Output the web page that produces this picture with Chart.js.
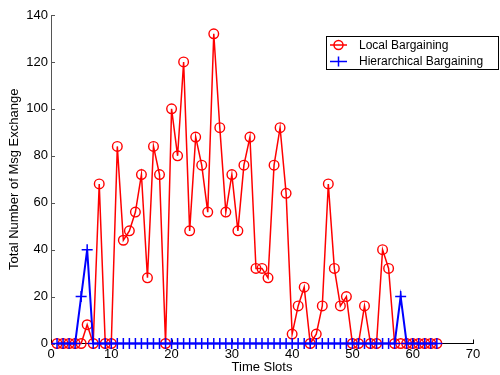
<!DOCTYPE html>
<html>
<head>
<meta charset="utf-8">
<script src="https://cdn.jsdelivr.net/npm/chart.js@4"></script>
<style>
  html, body { margin: 0; padding: 0; background: #fff; }
  #wrap { width: 500px; height: 375px; }
</style>
</head>
<body>
<div id="wrap"><canvas id="chart" width="500" height="375"></canvas></div>
<script>
// Msg exchange per time slot

const timeSlots = [1, 2, 3, 4, 5, 6, 7, 8, 9, 10, 11, 12, 13, 14, 15, 16, 17, 18, 19, 20, 21, 22,
    23, 24, 25, 26, 27, 28, 29, 30, 31, 32, 33, 34, 35, 36, 37, 38, 39, 40, 41, 42, 43,
    44, 45, 46, 47, 48, 49, 50, 51, 52, 53, 54, 55, 56, 57, 58, 59, 60, 61, 62, 63, 64];

const localMsgs = [0, 0, 0, 0, 0, 8, 0, 68, 0, 0, 84, 44, 48, 56, 72, 28, 84, 72, 0, 100, 80, 120,
    48, 88, 76, 56, 132, 92, 56, 72, 48, 76, 88, 32, 32, 28, 76, 92, 64, 4, 16, 24, 0,
    4, 16, 68, 32, 16, 20, 0, 0, 16, 0, 0, 40, 32, 0, 0, 0, 0, 0, 0, 0, 0];

const hierMsgs = [0, 0, 0, 0, 20, 40, 0, 0, 0, 0, 0, 0, 0, 0, 0, 0, 0, 0, 0, 0, 0, 0,
    0, 0, 0, 0, 0, 0, 0, 0, 0, 0, 0, 0, 0, 0, 0, 0, 0, 0, 0, 0, 0,
    0, 0, 0, 0, 0, 0, 0, 0, 0, 0, 0, 0, 0, 0, 20, 0, 0, 0, 0, 0, 0];

const xTicks = [0, 10, 20, 30, 40, 50, 60, 70];
const yTicks = [0, 20, 40, 60, 80, 100, 120, 140];

const toPoints = (ys) => timeSlots.map((x, i) => ({ x: x, y: ys[i] }));

// ticks pointing inward + boxed legend (matlab look)
const matlabBits = {
    id: 'matlabBits',
    beforeDatasetsDraw(chart) {
        const ctx = chart.ctx;
        const xs = chart.scales.x;
        const ys = chart.scales.y;
        const area = chart.chartArea;
        ctx.save();
        ctx.lineWidth = 1;
        ctx.strokeStyle = '#000';
        ctx.beginPath();
        xTicks.forEach(v => {
            const px = Math.round(xs.getPixelForValue(v)) + 0.5;
            ctx.moveTo(px, area.bottom);
            ctx.lineTo(px, area.bottom - 4);
        });
        ctx.stroke();
        ctx.strokeStyle = '#555';
        ctx.beginPath();
        yTicks.forEach(v => {
            const py = Math.round(ys.getPixelForValue(v)) + 0.5;
            ctx.moveTo(area.left, py);
            ctx.lineTo(area.left + 4, py);
        });
        ctx.stroke();
        ctx.restore();
    },
    afterDraw(chart) {
        const ctx = chart.ctx;
        ctx.save();
        // legend
        const bx = 326.5, by = 36.5, bw = 172, bh = 33;
        ctx.lineWidth = 1;
        ctx.fillStyle = '#fff';
        ctx.fillRect(bx, by, bw, bh);
        ctx.strokeStyle = '#000';
        ctx.strokeRect(bx, by, bw, bh);
        ctx.font = '12px "Liberation Sans", Arial, sans-serif';
        ctx.textBaseline = 'middle';
        chart.data.datasets.forEach((ds, i) => {
            const cy = 45 + i * 16.5;
            ctx.strokeStyle = ds.borderColor;
            ctx.lineWidth = 1.5;
            ctx.beginPath();
            ctx.moveTo(330, cy);
            ctx.lineTo(347, cy);
            ctx.stroke();
            ctx.beginPath();
            if (ds.pointStyle === 'circle') {
                ctx.arc(338.5, cy, 4.5, 0, Math.PI * 2);
            } else {
                ctx.moveTo(338.5, cy - 5);
                ctx.lineTo(338.5, cy + 5);
            }
            ctx.stroke();
            ctx.fillStyle = '#000';
            ctx.fillText(ds.label, 359, cy + 0.5);
        });
        ctx.restore();
    }
};

new Chart(document.getElementById('chart'), {
    type: 'line',
    data: {
        datasets: [
            {
                label: 'Local Bargaining',
                data: toPoints(localMsgs),
                borderColor: '#ff0000',
                backgroundColor: 'transparent',
                borderWidth: 1.5,
                pointStyle: 'circle',
                pointRadius: 4.8,
                pointBorderWidth: 1.4,
                pointBackgroundColor: 'transparent',
                pointBorderColor: '#ff0000',
                tension: 0,
                clip: false,
                order: 2
            },
            {
                label: 'Hierarchical Bargaining',
                data: toPoints(hierMsgs),
                borderColor: '#0000ff',
                backgroundColor: 'transparent',
                borderWidth: 2,
                pointStyle: 'cross',
                pointRadius: 5.5,
                pointBorderWidth: 1.5,
                pointBorderColor: '#0000ff',
                tension: 0,
                clip: false,
                order: 1
            }
        ]
    },
    options: {
        responsive: false,
        animation: false,
        layout: { padding: { top: 15, right: 27, left: 0, bottom: 0 } },
        plugins: {
            legend: { display: false },
            tooltip: { enabled: false }
        },
        elements: { line: { fill: false } },
        scales: {
            x: {
                type: 'linear',
                min: 0,
                max: 70,
                afterFit: (s) => { s.height = 31.5; },
                afterBuildTicks: (s) => { s.ticks = xTicks.map(v => ({ value: v })); },
                ticks: {
                    color: '#000',
                    padding: 3,
                    maxRotation: 0,
                    font: { family: '"Liberation Sans", Arial, sans-serif', size: 13 }
                },
                grid: { drawOnChartArea: false, drawTicks: false },
                border: { display: true, color: '#000', width: 1, z: -1 },
                title: {
                    display: true,
                    text: 'Time Slots',
                    color: '#000',
                    padding: { top: 0, bottom: 0 },
                    font: { family: '"Liberation Sans", Arial, sans-serif', size: 13 }
                }
            },
            y: {
                type: 'linear',
                min: 0,
                max: 140,
                afterFit: (s) => { s.width = 51; },
                afterBuildTicks: (s) => { s.ticks = yTicks.map(v => ({ value: v })); },
                ticks: {
                    color: '#000',
                    padding: 3,
                    font: { family: '"Liberation Sans", Arial, sans-serif', size: 13 }
                },
                grid: { drawOnChartArea: false, drawTicks: false },
                border: { display: true, color: '#555', width: 1, z: -1 },
                title: {
                    display: true,
                    text: 'Total Number of Msg Exchange',
                    color: '#000',
                    padding: { top: 7, bottom: 0 },
                    font: { family: '"Liberation Sans", Arial, sans-serif', size: 13 }
                }
            }
        }
    },
    plugins: [matlabBits]
});
</script>
</body>
</html>
